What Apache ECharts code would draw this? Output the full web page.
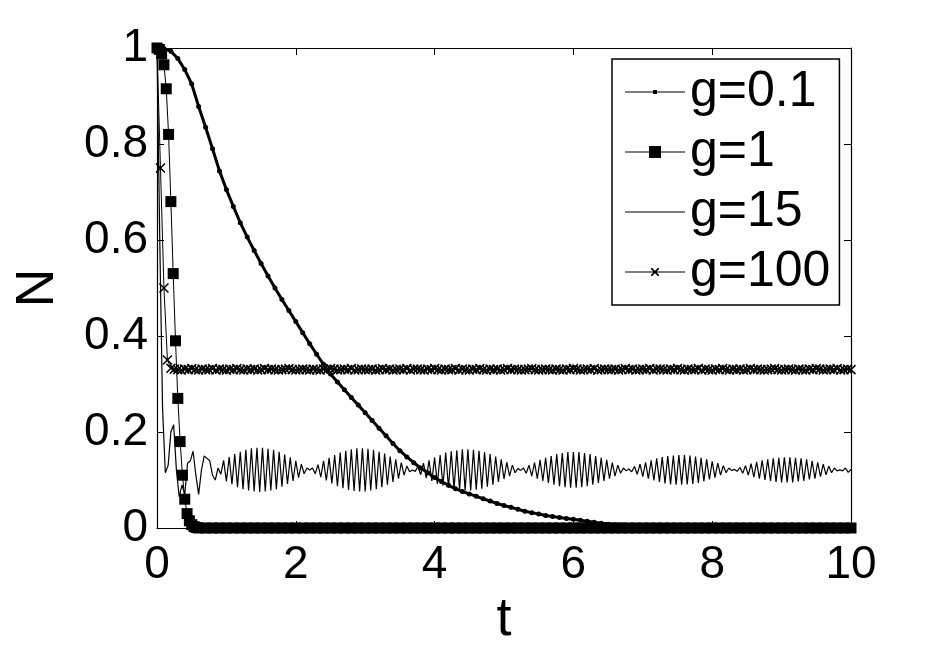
<!DOCTYPE html>
<html>
<head>
<meta charset="utf-8">
<script src="https://cdn.jsdelivr.net/npm/echarts@6.0.0/dist/echarts.min.js"></script>
<style>
  html, body { margin: 0; padding: 0; background: #fff; }
  #chart { width: 940px; height: 652px; }
</style>
</head>
<body>
<div id="chart"></div>
<script>
// legend names
const seriesNames = ['g=0.1', 'g=1', 'g=15', 'g=100'];
const xTicks = [0, 2, 4, 6, 8, 10];
const yTicks = [0, 0.2, 0.4, 0.6, 0.8, 1];

// g=0.1 : sampled every 0.1 from t=0
const stepG01 = 0.1;
const valuesG01 = [
  1.000, 0.999, 0.993, 0.978, 0.955, 0.925, 0.878, 0.835, 0.790, 0.744,
  0.705, 0.670, 0.636, 0.606, 0.578, 0.551, 0.525, 0.500, 0.476, 0.453,
  0.430, 0.407, 0.384, 0.362, 0.341, 0.321, 0.304, 0.288, 0.272, 0.256,
  0.240, 0.224, 0.208, 0.192, 0.176, 0.161, 0.148, 0.136, 0.125, 0.115,
  0.105, 0.097, 0.089, 0.082, 0.076, 0.071, 0.066, 0.061, 0.056, 0.051,
  0.047, 0.043, 0.039, 0.035, 0.032, 0.029, 0.026, 0.024, 0.022, 0.020,
  0.018, 0.016, 0.014, 0.012, 0.010, 0.008, 0.007, 0.006, 0.005, 0.004,
  0.003, 0.003, 0.002, 0.002, 0.002, 0.002, 0.001, 0.001, 0.001, 0.001,
  0.001, 0.001, 0.001, 0.001, 0.001, 0.001, 0, 0, 0, 0,
  0, 0, 0, 0, 0, 0, 0, 0, 0, 0,
  0
];

// g=1 : fast decay sampled every 1/30, then the flat tail every 0.1 from t=0.6
const stepG1 = 1 / 30;
const valuesG1 = [
  1.000, 0.997, 0.988, 0.965, 0.915, 0.820, 0.680, 0.530, 0.390, 0.270,
  0.180, 0.110, 0.060, 0.030, 0.015, 0.007, 0.003, 0.001
];
const tailStartG1 = 0.6;
const tailStepG1 = 0.1;
const tailG1 = [
  0, 0, 0, 0, 0, 0, 0, 0, 0, 0, 0, 0, 0, 0, 0, 0, 0, 0, 0, 0,
  0, 0, 0, 0, 0, 0, 0, 0, 0, 0, 0, 0, 0, 0, 0, 0, 0, 0, 0, 0,
  0, 0, 0, 0, 0, 0, 0, 0, 0, 0, 0, 0, 0, 0, 0, 0, 0, 0, 0, 0,
  0, 0, 0, 0, 0, 0, 0, 0, 0, 0, 0, 0, 0, 0, 0, 0, 0, 0, 0, 0,
  0, 0, 0, 0, 0, 0, 0, 0, 0, 0, 0, 0, 0, 0, 0
];

// g=15 : sampled every 0.04 from t=0
const stepG15 = 0.04;
const valuesG15 = [
  1.000, 0.600, 0.250, 0.115, 0.130, 0.200, 0.215, 0.120, 0.065, 0.090,
  0.070, 0.135, 0.140, 0.160, 0.110, 0.070, 0.120, 0.150, 0.145, 0.140,
  0.110, 0.100, 0.125, 0.112, 0.141, 0.097, 0.148, 0.091, 0.154, 0.085,
  0.159, 0.081, 0.163, 0.078, 0.166, 0.076, 0.167, 0.075, 0.167, 0.076,
  0.165, 0.078, 0.163, 0.081, 0.159, 0.086, 0.153, 0.092, 0.147, 0.098,
  0.140, 0.105, 0.133, 0.113, 0.125, 0.121, 0.125, 0.113, 0.132, 0.106,
  0.140, 0.099, 0.146, 0.093, 0.152, 0.087, 0.157, 0.083, 0.161, 0.079,
  0.164, 0.077, 0.166, 0.076, 0.166, 0.076, 0.165, 0.078, 0.163, 0.081,
  0.159, 0.085, 0.155, 0.090, 0.149, 0.096, 0.143, 0.103, 0.136, 0.110,
  0.129, 0.117, 0.121, 0.118, 0.128, 0.111, 0.135, 0.104, 0.141, 0.098,
  0.147, 0.092, 0.152, 0.088, 0.157, 0.084, 0.160, 0.081, 0.162, 0.079,
  0.164, 0.078, 0.164, 0.078, 0.163, 0.080, 0.161, 0.082, 0.158, 0.086,
  0.154, 0.090, 0.149, 0.096, 0.143, 0.102, 0.137, 0.108, 0.131, 0.115,
  0.124, 0.120, 0.125, 0.114, 0.131, 0.108, 0.136, 0.103, 0.142, 0.098,
  0.146, 0.094, 0.150, 0.090, 0.154, 0.087, 0.156, 0.085, 0.158, 0.084,
  0.158, 0.084, 0.158, 0.085, 0.156, 0.087, 0.154, 0.090, 0.150, 0.094,
  0.146, 0.098, 0.142, 0.103, 0.136, 0.108, 0.131, 0.114, 0.125, 0.119,
  0.123, 0.117, 0.128, 0.112, 0.133, 0.107, 0.137, 0.103, 0.141, 0.099,
  0.145, 0.096, 0.148, 0.093, 0.150, 0.091, 0.151, 0.090, 0.152, 0.090,
  0.152, 0.091, 0.151, 0.092, 0.149, 0.094, 0.146, 0.097, 0.143, 0.101,
  0.139, 0.105, 0.135, 0.110, 0.130, 0.115, 0.125, 0.120, 0.122, 0.118,
  0.126, 0.114, 0.130, 0.110, 0.134, 0.106, 0.138, 0.103, 0.141, 0.100,
  0.143, 0.098, 0.145, 0.096, 0.146, 0.095, 0.147, 0.095, 0.147, 0.095,
  0.146, 0.097, 0.145, 0.098, 0.143, 0.101, 0.140, 0.103, 0.137, 0.107,
  0.133, 0.111, 0.129, 0.115, 0.125, 0.119, 0.121, 0.119, 0.125, 0.116,
  0.122
];

// g=100 : sampled every 0.05 from t=0
const stepG100 = 0.05;
const valuesG100 = [
  1.000, 0.750, 0.500, 0.350, 0.333,
  0.331, 0.330, 0.329, 0.331, 0.330, 0.332, 0.330, 0.329, 0.331, 0.330, 0.330, 0.332, 0.329, 0.331,
  0.330, 0.329, 0.331, 0.330, 0.332, 0.330, 0.329, 0.331, 0.330, 0.331, 0.329, 0.330, 0.332, 0.330,
  0.331, 0.330, 0.329, 0.330, 0.331, 0.332, 0.330, 0.329, 0.330, 0.331, 0.330, 0.329, 0.331, 0.330,
  0.329, 0.331, 0.330, 0.332, 0.331, 0.329, 0.330, 0.331, 0.330, 0.332, 0.329, 0.330, 0.331, 0.330,
  0.330, 0.331, 0.329, 0.330, 0.332, 0.330, 0.331, 0.329, 0.330, 0.331, 0.330, 0.332, 0.329, 0.331,
  0.331, 0.330, 0.329, 0.331, 0.330, 0.332, 0.330, 0.329, 0.331, 0.330, 0.330, 0.332, 0.329, 0.331,
  0.330, 0.329, 0.331, 0.330, 0.332, 0.330, 0.329, 0.331, 0.330, 0.331, 0.329, 0.330, 0.332, 0.330,
  0.331, 0.330, 0.329, 0.330, 0.331, 0.332, 0.330, 0.329, 0.330, 0.331, 0.330, 0.329, 0.331, 0.330,
  0.329, 0.331, 0.330, 0.332, 0.331, 0.329, 0.330, 0.331, 0.330, 0.332, 0.329, 0.330, 0.331, 0.330,
  0.330, 0.331, 0.329, 0.330, 0.332, 0.330, 0.331, 0.329, 0.330, 0.331, 0.330, 0.332, 0.329, 0.331,
  0.331, 0.330, 0.329, 0.331, 0.330, 0.332, 0.330, 0.329, 0.331, 0.330, 0.330, 0.332, 0.329, 0.331,
  0.330, 0.329, 0.331, 0.330, 0.332, 0.330, 0.329, 0.331, 0.330, 0.331, 0.329, 0.330, 0.332, 0.330,
  0.331, 0.330, 0.329, 0.330, 0.331, 0.332, 0.330, 0.329, 0.330, 0.331, 0.330, 0.329, 0.331, 0.330,
  0.329, 0.331, 0.330, 0.332, 0.331, 0.329, 0.330, 0.331, 0.330, 0.332, 0.329, 0.330, 0.331, 0.330
];

// pair each value with its sampling time
function sampled(t0, dt, vals) {
  return vals.map((v, i) => [+(t0 + i * dt).toFixed(4), v]);
}

const FONT = 'Liberation Sans, Arial, Helvetica, sans-serif';

// legend icons: line with the series marker in the middle
const iconDot = 'path://M0,1.4h60v1.2h-60z M28,0h4v4h-4z';
const iconSquare = 'path://M0,5.4h60v1.2h-60z M24,0h12v12h-12z';
const iconLine = 'path://M0,0h60v1.2h-60z';
const iconCross = 'path://M0,3.4h60v1.2h-60z M26,0L27.2,0L34,6.8L34,8L32.8,8L26,1.2Z M34,0L34,1.2L27.2,8L26,8L26,6.8L32.8,0Z';

const chart = echarts.init(document.getElementById('chart'));

// box axes: no onZero, ticks pointing inward
const axisCommon = {
  type: 'value',
  axisLine: { show: true, onZero: false, lineStyle: { color: '#000', width: 1.2 } },
  axisTick: { show: true, inside: true, length: 7, lineStyle: { color: '#000', width: 1 } },
  splitLine: { show: false }
};

chart.setOption({
  animation: false,
  backgroundColor: '#fff',
  grid: { left: 157, right: 89, top: 48, bottom: 124, containLabel: false, outerBoundsMode: 'none' },
  legend: {
    left: 612,
    top: 59,
    orient: 'vertical',
    selectedMode: false,
    padding: [8, 9, 8, 13],
    itemGap: 10,
    itemWidth: 60,
    itemHeight: 14,
    borderColor: '#000',
    borderWidth: 1.5,
    backgroundColor: '#fff',
    itemStyle: { borderWidth: 0 },
    textStyle: { fontFamily: FONT, fontSize: 50, lineHeight: 50, color: '#000' },
    data: [
      { name: seriesNames[0], icon: iconDot },
      { name: seriesNames[1], icon: iconSquare },
      { name: seriesNames[2], icon: iconLine },
      { name: seriesNames[3], icon: iconCross }
    ]
  },
  xAxis: [
    Object.assign({}, axisCommon, {
      position: 'bottom', min: xTicks[0], max: xTicks[xTicks.length - 1], interval: 2,
      name: 't', nameLocation: 'middle', nameGap: 50,
      nameTextStyle: { fontFamily: FONT, fontSize: 54, color: '#000' },
      axisLabel: { fontFamily: FONT, fontSize: 46, color: '#000', margin: 14 }
    }),
    Object.assign({}, axisCommon, {
      position: 'top', min: xTicks[0], max: xTicks[xTicks.length - 1], interval: 2,
      axisLabel: { show: false }
    })
  ],
  yAxis: [
    Object.assign({}, axisCommon, {
      position: 'left', min: yTicks[0], max: yTicks[yTicks.length - 1], interval: 0.2,
      name: 'N', nameLocation: 'middle', nameGap: 92,
      nameTextStyle: { fontFamily: FONT, fontSize: 54, color: '#000' },
      axisLabel: { fontFamily: FONT, fontSize: 46, color: '#000', margin: 9 }
    }),
    Object.assign({}, axisCommon, {
      position: 'right', min: yTicks[0], max: yTicks[yTicks.length - 1], interval: 0.2,
      axisLabel: { show: false }
    })
  ],
  series: [
    {
      name: seriesNames[0], type: 'line', clip: false, silent: true,
      data: sampled(0, stepG01, valuesG01),
      symbol: 'circle', symbolSize: 5,
      itemStyle: { color: '#000', borderWidth: 0 },
      lineStyle: { color: '#000', width: 3 }
    },
    {
      name: seriesNames[1], type: 'line', clip: false, silent: true,
      data: sampled(0, stepG1, valuesG1).concat(sampled(tailStartG1, tailStepG1, tailG1)),
      symbol: 'rect', symbolSize: 11,
      itemStyle: { color: '#000', borderWidth: 0 },
      lineStyle: { color: '#000', width: 1 }
    },
    {
      name: seriesNames[2], type: 'line', clip: false, silent: true,
      data: sampled(0, stepG15, valuesG15),
      symbol: 'none',
      itemStyle: { color: '#000' },
      lineStyle: { color: '#000', width: 1.2 }
    },
    {
      name: seriesNames[3], type: 'line', clip: false, silent: true,
      data: sampled(0, stepG100, valuesG100),
      symbol: 'path://M0,0L10,10M10,0L0,10', symbolSize: 9,
      itemStyle: { color: '#000', borderColor: '#000', borderWidth: 1.5 },
      lineStyle: { color: '#000', width: 1 }
    }
  ]
});
</script>
</body>
</html>
